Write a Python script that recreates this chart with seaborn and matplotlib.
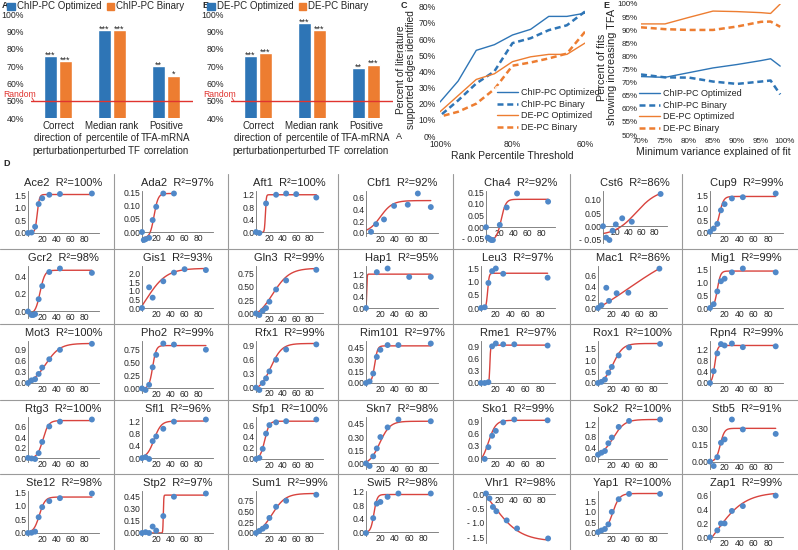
import numpy as np
import pandas as pd
import matplotlib
matplotlib.use("Agg")
import matplotlib.pyplot as plt
from matplotlib.lines import Line2D
from matplotlib.patches import Patch
from matplotlib.ticker import FixedLocator, MultipleLocator, AutoMinorLocator
import seaborn as sns

# ---------------- data: panels A / B ----------------
bar_categories = ["Correct\ndirection of\nperturbation",
                  "Median rank\npercentile of\nperturbed TF",
                  "Positive\nTFA-mRNA\ncorrelation"]
chip_optimized = [76, 91, 70]
chip_binary = [73, 91, 64.5]
chip_opt_sig = ["***", "***", "**"]
chip_bin_sig = ["***", "***", "*"]
de_optimized = [76, 95, 69]
de_binary = [77.5, 91, 71]
de_opt_sig = ["***", "***", "**"]
de_bin_sig = ["***", "***", "***"]
random_level = 50

# ---------------- data: panel C ----------------
rank_threshold = [100, 95, 90, 85, 80, 75, 70, 65, 60]
c_chip_opt = [21, 34, 53, 56.5, 62.5, 66, 74, 74, 76]
c_chip_bin = [12.5, 22, 32.5, 40, 57.5, 60.5, 65.5, 68.5, 77]
c_de_opt = [15, 25, 35, 38.5, 46, 49, 50.5, 50.5, 57.5]
c_de_bin = [12, 15, 20, 29, 43.5, 45.5, 48, 51, 64.5]

# ---------------- data: panel E ----------------
min_variance = [70, 75, 80, 85, 90, 95, 97, 99]
e_chip_opt = [72.3, 72.0, 73.8, 75.6, 76.9, 78.4, 79.1, 76.3]
e_chip_bin = [73.1, 72.0, 71.9, 70.4, 69.5, 70.4, 70.8, 65.5]
e_de_opt = [92.4, 92.4, 94.9, 97.3, 97.1, 96.7, 96.4, 100]
e_de_bin = [91.1, 90.4, 90.1, 90.1, 91.4, 93.2, 93.3, 91.3]

series_names = ["ChIP-PC Optimized", "ChIP-PC Binary", "DE-PC Optimized", "DE-PC Binary"]

# ---------------- data: panel D ----------------
tf_names = ["Ace2", "Ada2", "Aft1", "Cbf1", "Cha4", "Cst6", "Cup9",
            "Gcr2", "Gis1", "Gln3", "Hap1", "Leu3", "Mac1", "Mig1",
            "Mot3", "Pho2", "Rfx1", "Rim101", "Rme1", "Rox1", "Rpn4",
            "Rtg3", "Sfl1", "Sfp1", "Skn7", "Sko1", "Sok2", "Stb5",
            "Ste12", "Stp2", "Sum1", "Swi5", "Vhr1", "Yap1", "Zap1"]
tf_r2 = [100, 97, 100, 92, 92, 86, 99,
         98, 93, 99, 95, 97, 86, 99,
         100, 99, 99, 97, 97, 100, 99,
         100, 96, 100, 98, 99, 100, 91,
         98, 97, 99, 98, 98, 100, 99]
tf_times = [
    [0, 5, 10, 15, 20, 30, 45, 90],
    [0, 2.5, 5, 10, 15, 20, 30, 45],
    [0, 5, 15, 30, 45, 60, 90],
    [7, 14, 25, 39, 58, 72, 90],
    [0, 2.5, 5, 7.5, 10, 20, 30, 45, 90],
    [0, 5, 10, 15, 20, 30, 45, 90],
    [0, 5, 10, 15, 20, 30, 45, 90],
    [0, 5, 7.5, 10, 15, 20, 30, 45, 90],
    [0, 10, 15, 30, 45, 60, 90],
    [0, 5, 10, 15, 20, 30, 45, 90],
    [0, 15, 30, 60, 90],
    [0, 5, 10, 15, 20, 30, 90],
    [0, 5, 12, 16, 27, 44, 89],
    [0, 5, 10, 15, 20, 30, 45, 90],
    [0, 5, 10, 15, 20, 30, 45, 90],
    [0, 5, 10, 15, 20, 30, 45, 90],
    [0, 5, 10, 15, 20, 30, 45, 90],
    [0, 5, 10, 15, 20, 30, 45, 90],
    [0, 5, 10, 15, 20, 30, 45, 90],
    [0, 5, 10, 15, 20, 30, 45, 90],
    [0, 5, 10, 15, 20, 30, 45, 90],
    [0, 5, 10, 15, 20, 30, 45, 90],
    [0, 5, 10, 15, 20, 30, 45, 90],
    [0, 5, 10, 15, 20, 30, 45, 90],
    [0, 5, 10, 15, 20, 30, 45, 90],
    [5, 10, 15, 20, 30, 45, 90],
    [0, 5, 10, 15, 20, 30, 45, 90],
    [0, 5, 10, 15, 20, 30, 45, 90],
    [0, 5, 10, 15, 20, 30, 45, 90],
    [0, 5, 10, 15, 20, 30, 45, 90],
    [0, 5, 10, 15, 20, 30, 45, 90],
    [0, 10, 15, 20, 30, 45, 90],
    [0, 5, 10, 15, 30, 45, 90],
    [0, 5, 10, 15, 20, 30, 45, 90],
    [0, 10, 15, 20, 30, 45, 90],
]
tf_values = [
    [0.0, 0.02, 0.25, 1.15, 1.38, 1.52, 1.55, 1.57],
    [0.0, -0.03, -0.027, -0.022, 0.045, 0.095, 0.145, 0.145],
    [0.0, -0.03, 0.92, 1.2, 1.24, 1.22, 1.11],
    [0.02, 0.15, 0.23, 0.46, 0.48, 0.67, 0.44],
    [0.0, -0.045, -0.05, -0.055, -0.055, 0.01, 0.085, 0.145, 0.11],
    [0.0, -0.043, -0.052, -0.017, 0.007, 0.03, 0.017, 0.122],
    [0.05, 0.18, 0.37, 0.92, 1.17, 1.4, 1.45, 1.6],
    [0.0, -0.04, -0.04, -0.03, 0.14, 0.29, 0.45, 0.49, 0.44],
    [0.0, 1.2, 0.6, 1.55, 2.05, 2.25, 2.2],
    [0.0, -0.03, 0.05, 0.1, 0.22, 0.45, 0.62, 0.82],
    [0.0, 1.27, 1.4, 1.1, 1.1],
    [0.0, 0.03, 0.95, 1.4, 1.5, 1.3, 1.15],
    [0.0, 0.05, 0.37, 0.13, 0.27, 0.28, 0.72],
    [0.0, 0.15, 0.65, 1.05, 1.15, 1.4, 1.55, 1.4],
    [0.0, 0.07, 0.1, 0.24, 0.41, 0.63, 0.88, 1.04],
    [0.0, -0.03, 0.07, 0.41, 0.65, 0.87, 0.85, 0.75],
    [0.0, -0.05, 0.1, 0.2, 0.35, 0.6, 0.82, 0.93],
    [0.0, 0.02, 0.12, 0.33, 0.42, 0.48, 0.48, 0.5],
    [0.0, 0.0, 0.02, 0.9, 0.97, 0.95, 0.95, 0.92],
    [0.0, 0.05, 0.15, 0.45, 0.7, 1.2, 1.55, 1.7],
    [0.0, 0.42, 1.05, 1.38, 1.33, 1.4, 1.27, 1.3],
    [0.01, 0.0, -0.01, 0.1, 0.31, 0.6, 0.69, 0.73],
    [0.0, 0.03, -0.03, 0.55, 0.7, 0.95, 1.18, 1.25],
    [0.0, 0.02, 0.18, 0.45, 0.6, 0.65, 0.67, 0.7],
    [0.0, -0.03, 0.08, 0.17, 0.3, 0.41, 0.5, 0.48],
    [-0.02, 0.27, 0.55, 0.67, 0.88, 0.95, 0.93],
    [0.15, 0.22, 0.28, 0.55, 0.75, 1.12, 1.33, 1.38],
    [0.0, -0.04, 0.04, 0.17, 0.2, 0.38, 0.29, 0.25],
    [0.0, 0.01, 0.05, 0.58, 0.95, 1.17, 1.28, 1.45],
    [0.0, 0.01, 0.0, 0.08, 0.03, 0.21, 0.45, 0.49],
    [0.0, 0.05, 0.1, 0.15, 0.35, 0.61, 0.75, 0.89],
    [-0.02, 0.42, 0.85, 0.9, 1.05, 1.15, 1.15],
    [0.02, -0.15, -0.45, -0.6, -0.92, -1.2, -1.55],
    [0.04, 0.12, 0.19, 0.41, 1.0, 1.6, 1.85, 1.85],
    [0.0, 0.1, 0.2, 0.2, 0.38, 0.45, 0.6],
]
# fitted sigmoid parameters: low, high, midpoint, rate
fit_low = [0, -0.022, -0.01, 0, -0.055, -0.035, 0.05,
           -0.03, -1.3, -0.12, 0, 0, -0.5, 0,
           -0.05, 0, -0.08, 0, 0, -0.05, 0,
           0, 0, 0, -0.02, -0.15, 0.1, 0,
           0, 0, -0.05, 0, 0.9, 0, -0.5]
fit_high = [1.53, 0.145, 1.2, 0.55, 0.12, 0.14, 1.48,
            0.47, 2.3, 0.85, 1.2, 1.32, 1.23, 1.45,
            1.05, 0.83, 0.95, 0.47, 0.93, 1.72, 1.33,
            0.71, 1.2, 0.67, 0.48, 0.93, 1.38, 0.3,
            1.32, 0.47, 0.92, 1.12, -1.65, 1.87, 0.65]
fit_mid = [13, 17, 14, 20, 22, 52, 13,
           17, 6, 25, 1, 9, 45, 10,
           25, 15, 22, 12, 12, 22, 6.5,
           21, 17, 13, 19, 10, 22, 14,
           16, 30, 24, 11, 10, 21, 8]
fit_rate = [0.65, 0.35, 1.5, 0.12, 0.3, 0.06, 0.35,
            0.3, 0.07, 0.08, 3, 1.0, 0.02, 0.45,
            0.1, 0.4, 0.12, 0.5, 2, 0.14, 0.55,
            0.25, 0.2, 0.3, 0.14, 0.2, 0.12, 0.35,
            0.25, 3, 0.1, 0.45, 0.05, 0.2, 0.05]
tf_yticks = [
    [0, 0.5, 1.0, 1.5], [0, 0.05, 0.10, 0.15], [0, 0.4, 0.8, 1.2], [0, 0.2, 0.4, 0.6],
    [-0.05, 0, 0.05, 0.10, 0.15], [-0.05, 0, 0.05, 0.10], [0, 0.5, 1.0, 1.5],
    [0, 0.2, 0.4], [0, 0.5, 1.0, 1.5, 2.0], [0, 0.25, 0.50, 0.75], [0, 0.4, 0.8, 1.2],
    [0, 0.5, 1.0, 1.5], [0, 0.2, 0.4, 0.6], [0, 0.5, 1.0, 1.5],
    [0, 0.3, 0.6, 0.9], [0, 0.25, 0.50, 0.75], [0, 0.3, 0.6, 0.9], [0, 0.15, 0.30, 0.45],
    [0, 0.3, 0.6, 0.9], [0, 0.5, 1.0, 1.5], [0, 0.4, 0.8, 1.2],
    [0, 0.2, 0.4, 0.6], [0, 0.4, 0.8, 1.2], [0, 0.2, 0.4, 0.6], [0, 0.15, 0.30, 0.45],
    [0, 0.3, 0.6, 0.9], [0, 0.4, 0.8, 1.2], [0, 0.15, 0.30],
    [0, 0.5, 1.0, 1.5], [0, 0.15, 0.30, 0.45], [0, 0.25, 0.50, 0.75], [0, 0.4, 0.8, 1.2],
    [-1.5, -1.0, -0.5, 0], [0, 0.5, 1.0, 1.5], [0, 0.2, 0.4, 0.6],
]

# ---------------- style ----------------
sns.set_theme(style="white")
plt.rcParams["font.family"] = ["Liberation Sans", "DejaVu Sans"]

c_blue = "#2E75B6"
c_orange = "#ED7D31"
c_red = "#E0342F"
pt_blue = "#5088C8"
fit_red = "#D8433E"
grid_gray = "#9A9A9A"

W, H = 798, 550
fig = plt.figure(figsize=(W / 100, H / 100), dpi=100)
fig.patch.set_facecolor("white")


def px(l, t, r, b):
    return [l / W, 1 - b / H, (r - l) / W, (b - t) / H]


def bar_panel(x0, letter, names, v_opt, v_bin, s_opt, s_bin):
    ax = fig.add_axes(px(x0 + 31, 14.3, x0 + 193, 118.3))
    df = pd.DataFrame({"category": bar_categories * 2,
                       "percent": list(v_opt) + list(v_bin),
                       "series": [names[0]] * 3 + [names[1]] * 3})
    sns.barplot(data=df, x="category", y="percent", hue="series",
                palette=[c_blue, c_orange], saturation=1, width=0.55, gap=0.17,
                ax=ax, legend=False)
    ax.set_ylim(40, 100)
    ax.set_xlim(-0.5, 2.5)
    ax.set_yticks(range(40, 101, 10))
    ax.set_yticklabels([f"{v}%" for v in range(40, 101, 10)])
    ax.tick_params(axis="y", length=0, labelsize=6.3, pad=5)
    ax.tick_params(axis="x", length=0, labelsize=7, pad=2)
    for lab in ax.get_xticklabels():
        lab.set_linespacing(1.3)
    for s in ax.spines.values():
        s.set_visible(False)
    ax.set_xlabel("")
    ax.set_ylabel("")
    ax.set_facecolor("none")
    ax.axhline(random_level, color=c_red, lw=1.0, zorder=3)
    for cont, sig in zip(ax.containers, [s_opt, s_bin]):
        for bar, s in zip(cont, sig):
            ax.text(bar.get_x() + bar.get_width() / 2, bar.get_height() - 0.8, s,
                    ha="center", va="baseline", fontsize=6.5)
    handles = [Patch(color=c_blue), Patch(color=c_orange)]
    fig.legend(handles, names, loc="upper left", bbox_to_anchor=((x0 + 6) / W, 1.0),
               ncol=2, frameon=False, fontsize=7, handlelength=0.75, handleheight=0.75,
               handletextpad=0.25, columnspacing=0.5, borderpad=0.15, borderaxespad=0.0)
    fig.text((x0 + 2) / W, 1 - 5 / H, letter, fontsize=6.5, weight="bold", va="center")
    ax.annotate("Random", xy=((x0 + 34) / W, 1 - 101 / H), xycoords="figure fraction",
                xytext=((x0 + 3) / W, 1 - 94.5 / H), textcoords="figure fraction",
                fontsize=6.2, color=c_red, ha="left", va="center",
                arrowprops=dict(arrowstyle="-", color=c_red, lw=0.6,
                                shrinkA=0, shrinkB=0, relpos=(0.88, 0.15)))
    return ax


bar_panel(0, "A", ["ChIP-PC Optimized", "ChIP-PC Binary"], chip_optimized, chip_binary,
          chip_opt_sig, chip_bin_sig)
bar_panel(200, "B", ["DE-PC Optimized", "DE-PC Binary"], de_optimized, de_binary,
          de_opt_sig, de_bin_sig)

palette = {series_names[0]: c_blue, series_names[1]: c_blue,
           series_names[2]: c_orange, series_names[3]: c_orange}
dash_map = {series_names[0]: "", series_names[1]: (2.4, 1.5),
            series_names[2]: "", series_names[3]: (2.4, 1.5)}
size_map = {series_names[0]: 1.0, series_names[1]: 1.8,
            series_names[2]: 1.0, series_names[3]: 1.8}


def legend_handles():
    return [Line2D([], [], color=palette[n], lw=size_map[n],
                   linestyle="-" if dash_map[n] == "" else (0, dash_map[n])) for n in series_names]


# ---------------- panel C ----------------
axc = fig.add_axes(px(440, 6.7, 585, 136))
dfc = pd.DataFrame({"threshold": rank_threshold * 4,
                    "percent": c_chip_opt + c_chip_bin + c_de_opt + c_de_bin,
                    "series": sum([[n] * len(rank_threshold) for n in series_names], [])})
sns.lineplot(data=dfc, x="threshold", y="percent", hue="series", style="series",
             size="series", palette=palette, dashes=dash_map, sizes=size_map,
             ax=axc, legend=False)
axc.set_xlim(100, 60)
axc.set_ylim(0, 80)
axc.set_xticks([100, 80, 60])
axc.set_xticklabels(["100%", "80%", "60%"])
axc.set_yticks(range(0, 81, 10))
axc.set_yticklabels([f"{v}%" for v in range(0, 81, 10)])
axc.tick_params(length=0, labelsize=6.2, pad=3)
for s in axc.spines.values():
    s.set_visible(False)
axc.set_xlabel("Rank Percentile Threshold", fontsize=7.5, labelpad=1)
axc.set_ylabel("")
axc.set_facecolor("none")
fig.text(406 / W, 1 - 70 / H, "Percent of literature\nsupported edges identified",
         rotation=90, ha="center", va="center", fontsize=7.3, linespacing=1.0)
lc = axc.legend(legend_handles(), series_names, loc="lower left",
                bbox_to_anchor=(495 / W, 1 - 134 / H), bbox_transform=fig.transFigure,
                fontsize=6.5, frameon=True, handlelength=2.3, handletextpad=0.4,
                labelspacing=0.3, borderpad=0.2, borderaxespad=0)
lc.get_frame().set_facecolor("white")
lc.get_frame().set_edgecolor("none")
fig.text(401 / W, 1 - 5 / H, "C", fontsize=6.5, weight="bold", va="center")
fig.text(396 / W, 1 - 137 / H, "A", fontsize=6.5, va="center")

# ---------------- panel E ----------------
axe = fig.add_axes(px(641, 4, 785, 135))
dfe = pd.DataFrame({"variance": min_variance * 4,
                    "percent": e_chip_opt + e_chip_bin + e_de_opt + e_de_bin,
                    "series": sum([[n] * len(min_variance) for n in series_names], [])})
sns.lineplot(data=dfe, x="variance", y="percent", hue="series", style="series",
             size="series", palette=palette, dashes=dash_map, sizes=size_map,
             ax=axe, legend=False)
axe.set_xlim(70, 100)
axe.set_ylim(50, 100)
axe.set_xticks(range(70, 101, 5))
axe.set_xticklabels([f"{v}%" for v in range(70, 101, 5)])
axe.set_yticks(range(50, 101, 5))
axe.set_yticklabels([f"{v}%" for v in range(50, 101, 5)])
axe.tick_params(length=0, labelsize=5.8, pad=2.5)
for s in axe.spines.values():
    s.set_visible(False)
axe.set_xlabel("Minimum variance explained of fit", fontsize=7.5, labelpad=1)
axe.set_ylabel("")
axe.set_facecolor("none")
fig.text(607 / W, 1 - 67 / H, "Percent of fits\nshowing increasing TFA",
         rotation=90, ha="center", va="center", fontsize=7.8, linespacing=1.0)
le = axe.legend(legend_handles(), series_names, loc="lower left",
                bbox_to_anchor=(637 / W, 1 - 135 / H), bbox_transform=fig.transFigure,
                fontsize=6.5, frameon=True, handlelength=2.3, handletextpad=0.4,
                labelspacing=0.3, borderpad=0.2, borderaxespad=0)
le.get_frame().set_facecolor("white")
le.get_frame().set_edgecolor("none")
fig.text(603 / W, 1 - 5 / H, "E", fontsize=6.5, weight="bold", va="center")

# ---------------- panel D ----------------
fig.text(3 / W, 1 - 164 / H, "D", fontsize=6.5, weight="bold", va="center")
col_edges = [0, 114, 228, 338, 453, 570, 682, 798]
row_edges = [174, 249, 324, 400, 474, 550]


def tick_label(v, dec):
    s = f"{abs(v):.{dec}f}"
    return ("- " + s) if v < 0 else s


for i, name in enumerate(tf_names):
    r, c = divmod(i, 7)
    L, R = col_edges[c], col_edges[c + 1]
    T = row_edges[r]
    xs = np.array(tf_times[i], dtype=float)
    ys = np.array(tf_values[i], dtype=float)
    xf = np.linspace(0, xs.max(), 300)
    yf = fit_low[i] + (fit_high[i] - fit_low[i]) / (1 + np.exp(-fit_rate[i] * (xf - fit_mid[i])))
    ymax = max(ys.max(), yf.max(), 0)
    ymin = min(0, ys.min(), yf.min())
    neg = ymin < -0.03 * (ymax - ymin)
    top_px = T + 19.5
    bot_px = T + (66 if neg else 59)
    ppu = (bot_px - top_px) / (ymax - ymin)
    pad = 2.5 / ppu
    ticks = tf_yticks[i]
    dec = 1 if all(abs(v * 10 - round(v * 10)) < 1e-9 for v in ticks) else 2
    left_off = 33 if min(ticks) < 0 else 28
    ax = fig.add_axes(px(L + left_off, top_px - 2.5, R - 15, bot_px + 2.5))
    ax.set_facecolor("none")
    sns.lineplot(x=xf, y=yf, color=fit_red, lw=1.0, ax=ax)
    sns.scatterplot(x=xs, y=ys, color=pt_blue, s=18, edgecolor="none", ax=ax,
                    zorder=3, clip_on=False)
    ax.set_xlim(0, 100)
    ax.set_ylim(ymin - pad, ymax + pad)
    ax.spines["top"].set_visible(False)
    ax.spines["right"].set_visible(False)
    ax.spines["bottom"].set_position(("data", 0))
    for sp in ("left", "bottom"):
        ax.spines[sp].set_color("#707070")
        ax.spines[sp].set_linewidth(0.6)
    ax.xaxis.set_major_locator(FixedLocator([20, 40, 60, 80]))
    ax.xaxis.set_minor_locator(MultipleLocator(5))
    ax.set_xticklabels(["20", "40", "60", "80"])
    ax.yaxis.set_major_locator(FixedLocator(ticks))
    ax.set_yticklabels([tick_label(v, dec) for v in ticks])
    ax.yaxis.set_minor_locator(AutoMinorLocator(5))
    ax.tick_params(which="major", direction="in", length=2.6, width=0.5, color="#707070",
                   labelsize=6.2, pad=1.2)
    ax.tick_params(which="minor", direction="in", length=1.4, width=0.5, color="#707070")
    ax.set_xlabel("")
    ax.set_ylabel("")
    cx = (L + left_off + R - 15) / 2
    fig.text(cx / W, 1 - (T + 9) / H, f"{name}  R²={tf_r2[i]}%", ha="center", va="center",
             fontsize=8)

# grid lines between the small panels
for xe in col_edges[1:-1]:
    fig.add_artist(Line2D([xe / W, xe / W], [0, 1 - row_edges[0] / H],
                          transform=fig.transFigure, color=grid_gray, lw=0.8))
for ye in row_edges[1:-1]:
    fig.add_artist(Line2D([0, 1], [1 - ye / H, 1 - ye / H],
                          transform=fig.transFigure, color=grid_gray, lw=0.8))

fig.savefig("out.png", dpi=100, facecolor="white")
